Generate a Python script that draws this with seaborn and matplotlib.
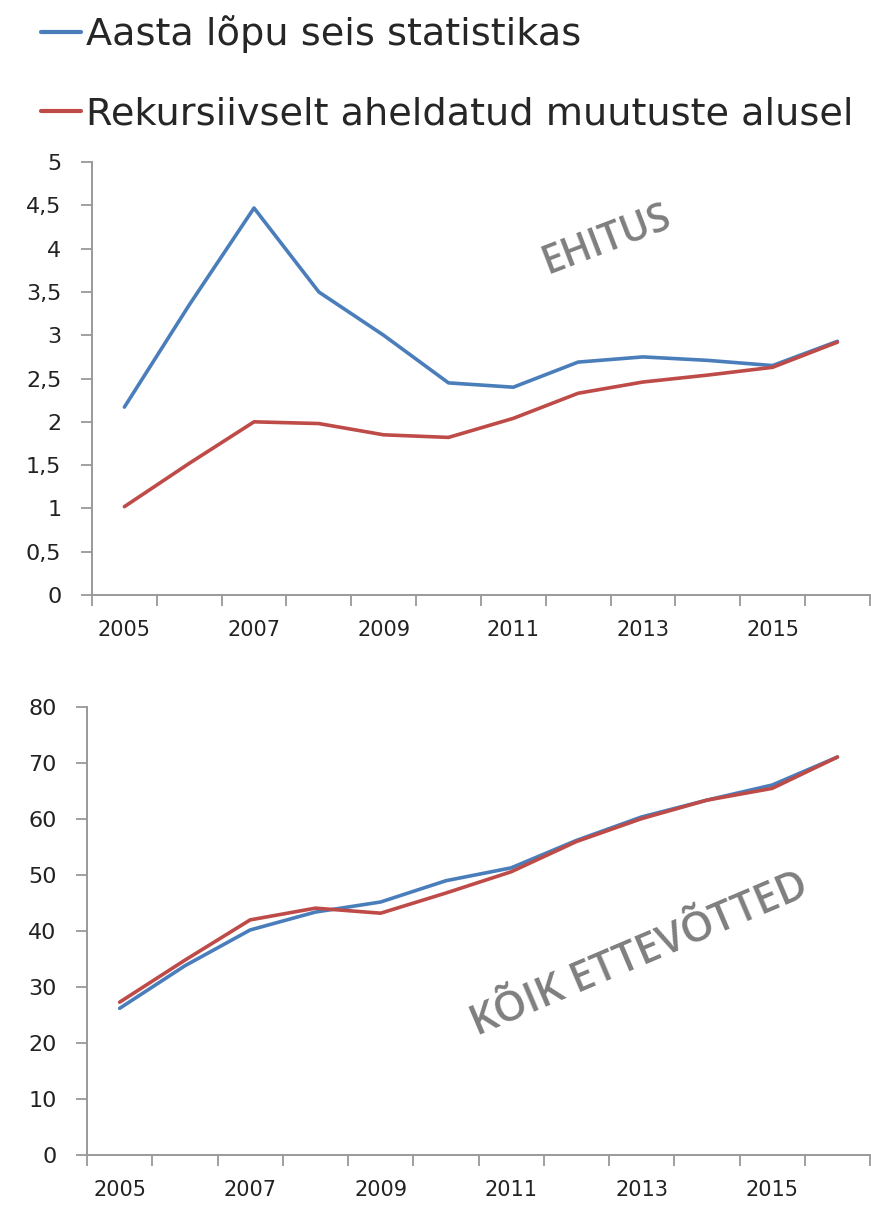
import matplotlib
matplotlib.use("Agg")
import matplotlib.pyplot as plt
import matplotlib.ticker as mticker
import numpy as np
import pandas as pd
import seaborn as sns

years = [2005, 2006, 2007, 2008, 2009, 2010, 2011, 2012, 2013, 2014, 2015, 2016]
series_names = ["Aasta lõpu seis statistikas", "Rekursiivselt aheldatud muutuste alusel"]

# EHITUS panel
ehitus_stat = [2.17, 3.35, 4.47, 3.50, 3.00, 2.45, 2.40, 2.69, 2.75, 2.71, 2.65, 2.93]
ehitus_rek = [1.02, 1.52, 2.00, 1.98, 1.85, 1.82, 2.04, 2.33, 2.46, 2.54, 2.63, 2.92]

# KÕIK ETTEVÕTTED panel
koik_stat = [26.2, 33.8, 40.2, 43.4, 45.2, 49.0, 51.3, 56.2, 60.4, 63.4, 66.1, 71.1]
koik_rek = [27.3, 34.8, 42.0, 44.1, 43.2, 46.8, 50.6, 56.0, 60.1, 63.4, 65.5, 71.1]

colors = ["#4A7EBB", "#BE4B48"]

sns.set_style("white")
plt.rcParams['font.family'] = ['DejaVu Sans']


def make_df(stat, rek):
    idx = np.arange(len(years))
    return pd.DataFrame({
        "pos": np.concatenate([idx, idx]),
        "value": stat + rek,
        "series": [series_names[0]] * len(years) + [series_names[1]] * len(years),
    })


def style_axis(ax, ymax, ystep, fmt):
    ax.set_xlim(-0.5, len(years) - 0.5)
    ax.set_ylim(0, ymax)
    ax.set_xticks(np.arange(0, len(years), 2))
    ax.set_xticklabels([str(y) for y in years[::2]])
    ax.set_xticks(np.arange(-0.5, len(years), 1), minor=True)
    ax.tick_params(axis="x", which="both", bottom=True)
    ax.tick_params(axis="x", which="major", length=0, pad=18, labelsize=15, labelcolor="#222222")
    ax.tick_params(axis="x", which="minor", length=8, width=1.3, color="#999999", direction="out")
    ax.set_yticks(np.arange(0, ymax + ystep / 2, ystep))
    ax.yaxis.set_major_formatter(mticker.FuncFormatter(fmt))
    ax.tick_params(axis="y", left=True, length=8, width=1.3, color="#999999", direction="out",
                   pad=14, labelsize=16, labelcolor="#222222")
    for s in ["top", "right"]:
        ax.spines[s].set_visible(False)
    for s in ["left", "bottom"]:
        ax.spines[s].set_color("#999999")
        ax.spines[s].set_linewidth(1.4)
    ax.set_xlabel("")
    ax.set_ylabel("")
    ax.grid(False)


fig = plt.figure(figsize=(8.71, 12.10), dpi=100)
ax1 = fig.add_axes([0.1056, 0.5083, 0.893, 0.3577])
ax2 = fig.add_axes([0.0999, 0.0455, 0.899, 0.370])

sns.lineplot(data=make_df(ehitus_stat, ehitus_rek), x="pos", y="value", hue="series",
             palette=colors, linewidth=2.6, ax=ax1, legend=False)
sns.lineplot(data=make_df(koik_stat, koik_rek), x="pos", y="value", hue="series",
             palette=colors, linewidth=2.6, ax=ax2, legend=False)

style_axis(ax1, 5, 0.5, lambda v, p: ("%g" % v).replace(".", ","))
style_axis(ax2, 80, 10, lambda v, p: "%d" % v)

ax1.text(7.45, 4.1, "EHITUS", rotation=21, color="#7F7F7F", fontsize=28,
         fontweight="semibold", ha="center", va="center", family=["Open Sans", "DejaVu Sans"])
ax2.text(7.97, 35.8, "KÕIK ETTEVÕTTED", rotation=23, color="#7F7F7F", fontsize=30,
         fontweight="semibold", ha="center", va="center", family=["Open Sans", "DejaVu Sans"])

# legend at top
handles = [plt.Line2D([0], [0], color=c, linewidth=3) for c in colors]
fig.legend(handles, series_names, loc="upper left", bbox_to_anchor=(0.008, 1.016),
           frameon=False, handlelength=1.05, handletextpad=0.12, labelspacing=1.15,
           prop={"family": "DejaVu Sans", "size": 27.5})

fig.savefig("out.png", dpi=100)
